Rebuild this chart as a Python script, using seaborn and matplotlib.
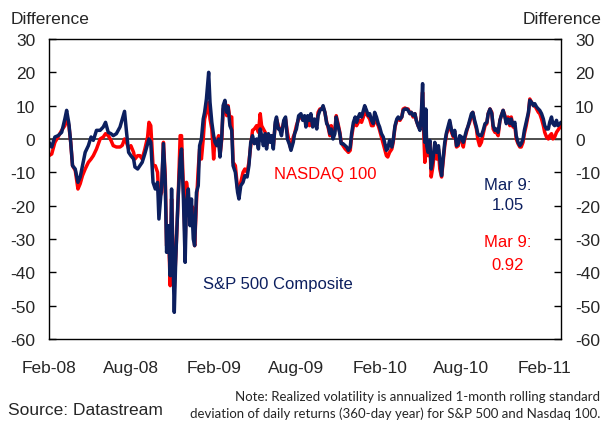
import pandas as pd
import matplotlib
matplotlib.use("Agg")
import matplotlib.pyplot as plt
import seaborn as sns

# Realized volatility difference, readings from Feb 2008 to Mar 9 2011
START = "2008-02-01"

day_offset = [
    0, 6, 13, 20, 28, 35, 39, 44, 48, 52, 58, 64, 69, 74, 80, 87, 93, 98, 105, 113,
    120, 125, 131, 137, 142, 149, 157, 162, 167, 171, 176, 181, 187,
    190, 196, 201, 206, 212, 218, 221, 225, 230, 235, 240, 243, 249, 253, 257, 260,
    264, 268, 271, 274, 277, 280, 285, 290, 293, 297, 301, 304, 308, 312, 315, 319,
    322, 326, 330, 333, 337, 341, 344, 348, 353, 356, 360, 364, 367, 371, 375, 378,
    382, 385,
    389, 393, 396, 400, 404, 407, 412, 417, 420, 424, 429, 433, 438, 442, 446, 450,
    454, 459, 463, 467, 470, 474, 478, 481, 485, 489, 492, 496, 500, 503, 507, 510,
    514, 519, 523, 527, 531, 535, 540, 543, 547, 552, 557, 561, 565, 568, 572, 576,
    579, 583, 587,
    592, 595, 599, 603, 606, 610, 614, 617, 621, 624, 628, 632, 635, 639, 643, 646,
    650, 655, 658, 662, 666, 669, 673, 677, 680, 684, 687, 691, 695, 698, 702, 706,
    709, 713, 717, 720, 724, 728, 731, 735, 739, 742, 746, 749, 753, 758, 761, 765,
    769, 772, 776, 780, 783,
    787, 791, 794, 798, 801, 805, 809, 812, 816, 820, 823, 826, 828, 831, 833, 835,
    838, 842, 845, 849, 853, 857, 861, 864, 868, 872, 875, 879, 883, 886, 890, 894,
    897, 901, 905, 908, 912, 916, 919, 923, 926, 930, 934, 937, 941, 945, 948, 952,
    956, 960, 964, 968, 971,
    975, 979, 982, 986, 989, 993, 997, 1000, 1004, 1008, 1011, 1015, 1019, 1022,
    1026, 1030, 1033, 1037, 1041, 1044, 1048, 1051, 1055, 1060, 1063, 1067, 1071,
    1074, 1078, 1082, 1085, 1089, 1093, 1096, 1100, 1104, 1107, 1111, 1114, 1118,
    1122, 1125, 1132,
]

sp500 = [
    -1, -2.4, 0.6, 1, 2, 6, 8.6, 4.6, -1, -8, -9, -13, -11.4, -8, -4, -2, 0.6, -0.4,
    2.6, 2.6, 3.6, 5, 2, 1.6, 1, 1.6, 3.6, 6, 8.3, 2.6, -4, -5, -6,
    -8.4, -9, -8, -7, -4.4, -1.4, 0, -1, -13, -15, -13, -24, -14, -1.4, -13, -34,
    -26, -41, -15, -36, -52, -37, -19, -6, -3, -17, -37, -19, -15, -26, -18, -30,
    -32, -16, -14, -2, 0, 6, 8, 12, 20, 11, 5, 1, -1, -2, 0, -5.4, 1, 10,
    11.6, 8, 9.6, 4, 2.6, -8, -10, -16, -18, -14, -13, -11, -11.4, -8, -1, 1, -1.4,
    0, -3, 3, 1, -2, 1.6, -3, 1.6, -1, 1, -3, 5, 6.6, 3, 3, 1, 5.6, 6.6, 0, -1.4,
    -3.4, -1, 1.6, 3, 7, 7.6, 5.6, 7, 3.6, 7, 5.6, 7.6, 3.6, 6,
    3, 7, 8.6, 9, 10, 8, 4.6, 4, 1.6, 3, 0, 1.6, 6.6, 4, 1.6, -1.4, -1.4, -2, -2.4,
    -3.4, -2.4, 1.6, 5, 6.6, 5, 6.6, 7.6, 6.6, 8.6, 10, 8.6, 7, 7.6, 5.6, 4.6, 8,
    6.6, 4.6, 3.6, 1.6, 0.6, -1, -3.4, -2.9, -0.4, -2.4, -0.4, 4, 6, 6.6, 6, 6.6, 8.6,
    9, 9, 8.6, 7.6, 8, 7, 7.6, 5.6, 4, 2.6, 7, 16.6, 5, -1, 9, -2, -4, -0.4, -9, -6,
    -1, -4, -2, -6, -11, -5, -1, 2, 4, 5.6, 2.6, 1, 2.6, -2, -1.4, 1, 0.6, -1, 0.6,
    2.6, 3.6, 5.6, 7.6, 8, 5.6, 3.6, 1.6, 1, 1, 2.6, 4.6, 5, 7.6,
    9, 7.6, 4, 2.6, 3, 2, 5.6, 7, 8.6, 6.6, 4.6, 6, 4.6, 6, 4, 5, 1, -1, -2, -1.4, 0,
    2.6, 5, 8, 11.6, 11, 10, 10.6, 9.6, 9, 8.6, 7.6, 6, 4, 3, 3, 5, 6.6, 4.6, 4, 5.6,
    4, 5,
]

nasdaq = [
    -5, -4.5, -1, 0.6, 2.6, 4, 6, 4, -1, -8, -9.4, -15, -13.4, -11, -9, -7, -6, -5,
    -3, 0, 0.6, 1.6, 1, -0.4, -2, -2.4, -2.4, -1.9, 0, -0.9, -2.9, -2, -4,
    -6, -5, -5, -6, -3, 0.6, 5, 4, -8, -8, -10, -18, -16, -1, -11, -32, -27, -44,
    -18, -33, -45, -36, -20, 1, 1, -14, -32, -13, -18, -24, -20, -21, -32, -19, -9,
    -3, -6, 0, 6, 8, 11, 6, 3, -6, 0, -1, 1, -5, 0, 9,
    10, 7, 10, 6, 6.6, -7, -8, -15, -16, -13, -10, -9, -10, -7, -2, 2.6, 3, 4, 2,
    7.6, 4, 3, 2, -2, 0, 0, 1, -2, 4, 6, 4, 3, 2, 5, 6, 2, -1, -3, 0.6, 1.6, 4, 6,
    6.6, 6, 5.6, 5, 6, 4, 6.6, 5.6, 5.6,
    4, 8, 9, 9, 9.6, 8, 5, 3.6, 1, 4, 1, 2.6, 7, 4.6, 2, -1, -2, -3, -3.4, -4, -3.4,
    0.6, 4, 5, 4, 5, 5.6, 5, 6.6, 8, 7.6, 6.6, 6, 4, 4, 7, 5, 4, 2.6, 0.6, -1.4, -3,
    -5, -5.4, -4, -3, -1, 3.6, 5.6, 6, 5.6, 6.6, 9,
    9.3, 9, 9, 7.6, 8, 6.6, 7.6, 5.6, 4, 3, 6.6, 14, 4, -7, 8, -4, -5, -1, -11.4, -8,
    -2, -6, -3, -9, -11.4, -6, -2, 1.6, 3, 5, 2, 0.6, 2, -2.4, -2, 0.6, 0, -2.4, 0,
    2, 3.6, 5, 7, 8, 5, 3, 0, -2, -1, 1.6, 4, 4.6, 7.6,
    9, 8, 3, 2, 2, 1, 5.6, 7, 8.6, 7, 5, 6.6, 4, 6.6, 3.6, 4, 0, -1.4, -2.4, -2.4,
    -1, 1.6, 4, 7.6, 12, 11, 10, 10, 9, 8, 7.6, 6, 4, 2, 0.6, 0, 1, 1.6, 0, 0.6, 2,
    2.6, 4,
]

tick_dates = ["2008-02-01", "2008-08-01", "2009-02-01", "2009-08-01",
              "2010-02-01", "2010-08-01", "2011-02-01"]
tick_labels = ["Feb-08", "Aug-08", "Feb-09", "Aug-09", "Feb-10", "Aug-10", "Feb-11"]

NAVY = "#0c1f5f"
RED = "#ff0000"

dates = pd.Timestamp(START) + pd.to_timedelta(day_offset, unit="D")
df = pd.DataFrame({"date": dates, "NASDAQ 100": nasdaq, "S&P 500 Composite": sp500})
long_df = df.melt(id_vars="date", var_name="series", value_name="diff")

sns.set_theme(style="white")
plt.rcParams["font.family"] = ["Liberation Sans", "DejaVu Sans"]
plt.rcParams["axes.unicode_minus"] = False

W, H = 612, 427
fig = plt.figure(figsize=(W / 100, H / 100), dpi=100)
ax = fig.add_axes([49 / W, 1 - 340 / H, 512 / W, 300 / H])

ax.axhline(0, color="#404040", lw=1.3, zorder=1)
sns.lineplot(data=long_df, x="date", y="diff", hue="series",
             hue_order=["NASDAQ 100", "S&P 500 Composite"],
             palette={"NASDAQ 100": RED, "S&P 500 Composite": NAVY},
             estimator=None, linewidth=2.5, legend=False, ax=ax, zorder=2)

ax.set_xlim(pd.Timestamp("2008-02-01"), pd.Timestamp("2011-03-09"))
ax.set_ylim(-60, 30)
ax.set_yticks(range(-60, 31, 10))
ax.set_xticks(pd.to_datetime(tick_dates))
ax.set_xticklabels(tick_labels)
ax.set_xlabel("")
ax.set_ylabel("")

ax.tick_params(axis="y", direction="in", length=5, width=1, color="black",
               left=True, right=True, labelleft=True, labelright=True,
               labelsize=12.5, pad=10)
ax.tick_params(axis="x", length=0, labelsize=12.5, pad=15)
for s in ax.spines.values():
    s.set_visible(True)
    s.set_color("black")
    s.set_linewidth(1)


def px_text(x, y, s, **kw):
    fig.text(x / W, 1 - y / H, s, va="center", **kw)


px_text(11, 20, "Difference", fontsize=12.5, ha="left")
px_text(602, 20, "Difference", fontsize=12.5, ha="right")

px_text(274, 175, "NASDAQ 100", fontsize=12, color=RED, ha="left")
px_text(203, 285, "S&P 500 Composite", fontsize=12, color=NAVY, ha="left")
px_text(508, 185, "Mar 9:", fontsize=12, color=NAVY, ha="center")
px_text(508, 206, "1.05", fontsize=12, color=NAVY, ha="center")
px_text(508, 243, "Mar 9:", fontsize=12, color=RED, ha="center")
px_text(508, 265, "0.92", fontsize=12, color=RED, ha="center")

px_text(8, 411, "Source: Datastream", fontsize=12.5, ha="left")
px_text(600, 397, "Note: Realized volatility is annualized 1-month rolling standard",
        fontsize=9.5, ha="right", family=["Lato", "DejaVu Sans"])
px_text(600, 414, "deviation of daily returns (360-day year) for S&P 500 and Nasdaq 100.",
        fontsize=9.5, ha="right", family=["Lato", "DejaVu Sans"])

fig.savefig("out.png", dpi=100)
